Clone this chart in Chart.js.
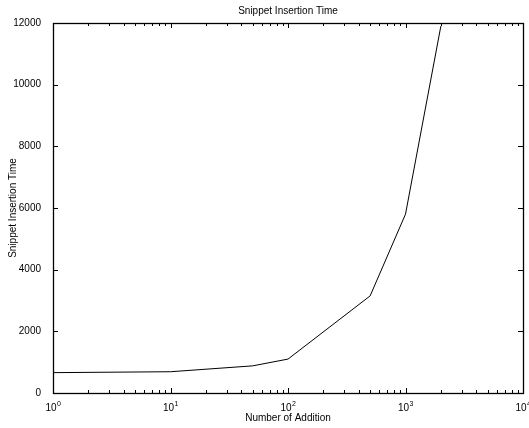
<!DOCTYPE html>
<html>
<head>
<meta charset="utf-8">
<script src="https://cdn.jsdelivr.net/npm/chart.js@4"></script>
<style>
  html, body { margin: 0; padding: 0; background: #fff; }
  #wrap { width: 529px; height: 428px; }
</style>
</head>
<body>
<div id="wrap"><canvas id="grafico"></canvas></div>
<script>
// valores
const numeroAdicoes = [1, 10, 50, 100, 500, 1000, 2000]
const tempoInsercao = [660, 690, 880, 1100, 3150, 5800, 11900]

const ticksMaiores = [1, 10, 100, 1000, 10000]
const expoentesX = ['0', '1', '2', '3', '4']   // rotulos 10^0 ... 10^4
const ticksY = [0, 2000, 4000, 6000, 8000, 10000, 12000]

const familia = '"Liberation Sans", Arial, sans-serif'
const fonte = { family: familia, size: 10 }

// ticks para dentro nos quatro lados + caixa + rotulos 10^n, estilo matlab
const caixaTicks = {
  id: 'caixaTicks',
  afterDraw(chart) {
    const ctx = chart.ctx
    const a = chart.chartArea
    const sx = chart.scales.x
    const sy = chart.scales.y
    ctx.save()
    ctx.strokeStyle = '#000'
    ctx.lineWidth = 1
    ctx.beginPath()
    for (const t of sx.ticks) {
      const px = Math.round(sx.getPixelForValue(t.value)) + 0.5
      const len = ticksMaiores.includes(t.value) ? 5 : 3
      ctx.moveTo(px, a.bottom); ctx.lineTo(px, a.bottom - len)
      ctx.moveTo(px, a.top); ctx.lineTo(px, a.top + len)
    }
    for (const t of sy.ticks) {
      const py = Math.round(sy.getPixelForValue(t.value)) + 0.5
      ctx.moveTo(a.left, py); ctx.lineTo(a.left + 5, py)
      ctx.moveTo(a.right, py); ctx.lineTo(a.right - 5, py)
    }
    ctx.stroke()
    ctx.lineWidth = 1.3
    ctx.strokeRect(Math.round(a.left) + 0.5, Math.round(a.top) + 0.5, Math.round(a.right - a.left), Math.round(a.bottom - a.top))

    // rotulos do eixo x com expoente
    ctx.fillStyle = '#000'
    ctx.textBaseline = 'alphabetic'
    ctx.textAlign = 'left'
    ticksMaiores.forEach((v, i) => {
      const px = sx.getPixelForValue(v)
      ctx.font = '10px ' + familia
      const w1 = ctx.measureText('10').width
      ctx.font = '7px ' + familia
      const w2 = ctx.measureText(expoentesX[i]).width
      const x0 = px - (w1 + w2) / 2
      ctx.font = '10px ' + familia
      ctx.fillText('10', x0, a.bottom + 18)
      ctx.font = '7px ' + familia
      ctx.fillText(expoentesX[i], x0 + w1 + 0.5, a.bottom + 13)
    })
    ctx.restore()
  }
}

const g = document.getElementById('grafico')

new Chart(g, {
  type: 'line',
  data: {
    datasets: [{
      label: 'Snippet Insertion Time',
      data: numeroAdicoes.map((x, i) => ({ x: x, y: tempoInsercao[i] })),
      borderColor: '#000',
      borderWidth: 1,
      pointRadius: 0,
      tension: 0,
      fill: false
    }]
  },
  options: {
    responsive: true,
    maintainAspectRatio: false,
    animation: false,
    devicePixelRatio: 1,
    layout: { padding: { left: 0, right: 6, top: 0, bottom: 0 } },
    plugins: {
      legend: { display: false },
      tooltip: { enabled: false },
      title: {
        display: true,
        fullSize: false,
        text: 'Snippet Insertion Time',
        color: '#000',
        font: { ...fonte, weight: 'normal', lineHeight: 1.2 },
        padding: { top: 5, bottom: 6 }
      }
    },
    scales: {
      x: {
        type: 'logarithmic',
        min: 1,
        max: 10000,
        grid: { display: false },
        border: { display: false },
        afterBuildTicks(scale) {
          const lista = []
          for (let d = 0; d < 4; d++) {
            for (let k = 1; k <= 9; k++) lista.push({ value: k * Math.pow(10, d) })
          }
          lista.push({ value: 10000 })
          scale.ticks = lista
        },
        ticks: {
          autoSkip: false,
          maxRotation: 0,
          font: fonte,
          callback: () => ''
        },
        title: {
          display: true,
          text: 'Number of Addition',
          color: '#000',
          font: fonte,
          padding: { top: 0, bottom: 4 }
        },
        afterFit(scale) {
          scale.height = 35
          scale.paddingLeft = 0
          scale.paddingRight = 0
        }
      },
      y: {
        min: 0,
        max: 12000,
        grid: { display: false },
        border: { display: false },
        afterBuildTicks(scale) {
          scale.ticks = ticksY.map(v => ({ value: v }))
        },
        ticks: {
          color: '#000',
          font: fonte,
          padding: 4,
          callback: v => String(v)
        },
        title: {
          display: true,
          text: 'Snippet Insertion Time',
          color: '#000',
          font: fonte,
          padding: { top: 7, bottom: 0 }
        },
        afterFit(scale) {
          scale.width = 53
          scale.paddingTop = 0
          scale.paddingBottom = 0
        }
      }
    }
  },
  plugins: [caixaTicks]
})
</script>
</body>
</html>
